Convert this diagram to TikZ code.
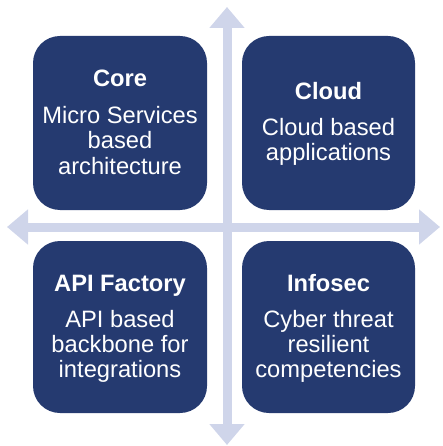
\documentclass[tikz,border=0pt]{standalone}
\usepackage{fontspec}
\setmainfont{Liberation Sans}
\usetikzlibrary{arrows.meta}
\definecolor{navy}{RGB}{37,58,112}
\definecolor{axiscol}{RGB}{207,213,234}
\tikzset{
  box/.style={fill=navy, draw=none, rounded corners=27pt, inner sep=0pt},
  ttl/.style={anchor=base, inner sep=0pt, text=white, font=\fontsize{23.7}{25}\selectfont\bfseries},
  txt/.style={anchor=base, inner sep=0pt, text=white, font=\fontsize{23.7}{25}\selectfont},
  axis/.style={draw=axiscol, line width=9pt,
    {Triangle[width=34pt,length=21pt]}-{Triangle[width=34pt,length=21pt]}}
}
\begin{document}
\begin{tikzpicture}[x=1pt,y=1pt]
\useasboundingbox (0,0) rectangle (442,-446);
% axes
\coordinate (L) at (7,-227);
\coordinate (R) at (440,-227);
\coordinate (T) at (227,-7);
\coordinate (B) at (227,-445);
\draw[axis] (L) -- (R);
\draw[axis] (T) -- (B);
% boxes
\node[box, minimum width=174pt, minimum height=174pt] (core) at (120,-123) {};
\node[box, minimum width=173pt, minimum height=174pt] (cloud) at (328.5,-123) {};
\node[box, minimum width=174pt, minimum height=172pt] (api) at (120,-327) {};
\node[box, minimum width=173pt, minimum height=172pt] (infosec) at (328.5,-327) {};
% Core
\node[ttl] (coreT) at (120,-87) {Core};
\node[txt] (core1) at (120,-124) {Micro Services};
\node[txt] (core2) at (120,-149) {based};
\node[txt] (core3) at (120,-175) {architecture};
% Cloud
\node[ttl] (cloudT) at (328.5,-100) {Cloud};
\node[txt] (cloud1) at (328.5,-136) {Cloud based};
\node[txt] (cloud2) at (328.5,-161) {applications};
% API Factory
\node[ttl] (apiT) at (120,-291) {API Factory};
\node[txt] (api1) at (120,-327) {API based};
\node[txt] (api2) at (120,-352) {backbone for};
\node[txt] (api3) at (120,-377) {integrations};
% Infosec
\node[ttl] (infT) at (328.5,-291) {Infosec};
\node[txt] (inf1) at (328.5,-327) {Cyber threat};
\node[txt] (inf2) at (328.5,-352) {resilient};
\node[txt] (inf3) at (328.5,-377) {competencies};
\end{tikzpicture}
\end{document}
